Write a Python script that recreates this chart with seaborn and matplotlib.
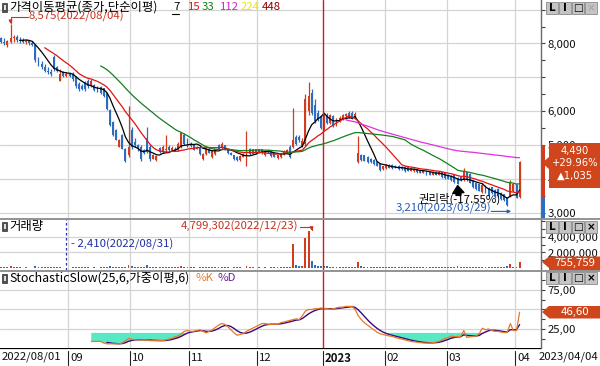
import numpy as np
import pandas as pd
import matplotlib
matplotlib.use("Agg")
import matplotlib.pyplot as plt
import matplotlib.transforms as mtransforms
from matplotlib.patches import Rectangle, Polygon
import seaborn as sns

# ---------------- data ----------------
start_date = "2022-08-01"
end_date = "2023-04-04"
holidays = ["2022-08-15", "2022-09-09", "2022-09-12", "2022-10-03", "2022-10-10",
            "2022-12-30", "2023-01-23", "2023-01-24", "2023-03-01"]

opens = [
    8150, 8050, 7950, 8050, 8150, 8200, 8100, 8080, 8050, 8060, 8000, 7950, 7550, 7400, 7300, 7200, 7150, 7600, 7300, 6900, 7150, 7050,
    7100, 7100, 7000, 6800, 6750, 6850, 6900, 6750, 6780, 6730, 6730, 6680, 6530, 6040, 5690, 5450, 4960, 5300, 4900, 4700,
    5450, 5100, 5000, 4950, 4850, 5200, 4950, 4600, 4560, 4930, 4800, 4850, 4950, 4850, 4900, 4850, 4950, 5300, 5150,
    5050, 5000, 4900, 4950, 4600, 4750, 4900, 4650, 4750, 5000, 4920, 5000, 4900, 4780, 4700, 4650, 4560, 4660, 4700, 4880, 4750, 4880,
    4780, 4880, 4700, 4830, 4800, 4780, 4620, 4640, 4720, 4780, 4950, 4950, 5250, 5250, 4980, 5050, 6000, 6550, 6200, 5950, 5850,
    5500, 5900, 5650, 5850, 5600, 5700, 5780, 5850, 5960, 5950, 5800, 4500, 4720, 4700, 4650, 4600, 4550, 4500, 4450, 4300,
    4320, 4430, 4420, 4400, 4400, 4350, 4360, 4350, 4250, 4230, 4300, 4250, 4180, 4230, 4200, 4130, 4220, 4130, 4200, 4170,
    4120, 4100, 4120, 4030, 4050, 3960, 4200, 4150, 3950, 3900, 3850, 3620, 3800, 3750, 3760, 3680, 3720, 3600, 3550, 3450, 3500, 3650,
    3850, 3470]
highs = [
    8200, 8150, 8100, 8575, 8250, 8250, 8180, 8150, 8120, 8100, 8080, 7980, 7600, 7480, 7400, 7300, 7250, 7650, 7350, 7250, 7200, 7150,
    7150, 7150, 7050, 6850, 6800, 6900, 6950, 6950, 6800, 6760, 6750, 6700, 6550, 6060, 5710, 5470, 5180, 5320, 4920, 6150,
    5550, 5200, 5050, 5000, 4900, 5550, 5000, 4750, 4700, 4950, 5000, 5300, 5000, 4970, 4950, 5100, 5400, 5350, 5200,
    5080, 5020, 4980, 4970, 4780, 4950, 4940, 4850, 4900, 5050, 5100, 5020, 4930, 4800, 4720, 4680, 4700, 4760, 5420, 4920, 4900, 4900,
    4900, 4900, 4860, 4880, 4830, 4800, 4730, 4760, 4850, 4880, 5000, 6100, 5300, 5300, 5200, 6500, 6850, 6650, 6350, 6050, 5900,
    5950, 5950, 5930, 5880, 5800, 5850, 5920, 5950, 6000, 6000, 5970, 5270, 4750, 4720, 4680, 4620, 4580, 4520, 4460, 4400,
    4450, 4440, 4440, 4420, 4420, 4380, 4380, 4370, 4350, 4330, 4320, 4270, 4260, 4250, 4220, 4230, 4240, 4230, 4210, 4190,
    4140, 4110, 4130, 4050, 4080, 4330, 4220, 4170, 3970, 3920, 3870, 3900, 3820, 3770, 3780, 3700, 3740, 3620, 3570, 3480, 3960, 3880,
    3870, 4530]
lows = [
    8000, 7950, 7900, 8000, 8050, 8050, 8020, 8000, 7980, 7950, 7920, 7450, 7350, 7250, 7150, 7100, 7050, 7200, 7150, 6880, 7000, 7000,
    7000, 6900, 6700, 6600, 6620, 6600, 6700, 6720, 6600, 6560, 6520, 6420, 6050, 5560, 5280, 5140, 4940, 4880, 4500, 4650,
    4900, 4950, 4830, 4540, 4750, 4780, 4540, 4580, 4540, 4780, 4780, 4800, 4820, 4830, 4820, 4830, 4930, 5000, 4950,
    4950, 4850, 4880, 4720, 4550, 4720, 4760, 4620, 4720, 4880, 4900, 4850, 4750, 4700, 4550, 4530, 4540, 4640, 4400, 4720, 4730, 4750,
    4760, 4750, 4690, 4760, 4650, 4640, 4600, 4620, 4700, 4760, 4620, 4930, 5000, 5100, 4960, 4970, 5900, 5900, 5650, 5700, 5480,
    5450, 5620, 5620, 5550, 5580, 5680, 5750, 5820, 5800, 5780, 5780, 4480, 4520, 4520, 4480, 4480, 4420, 4380, 4240, 4280,
    4300, 4320, 4300, 4330, 4280, 4270, 4220, 4230, 4230, 4220, 4180, 4170, 4170, 4130, 4110, 4120, 4110, 4120, 4030, 4000,
    3990, 3950, 3900, 3850, 3930, 3950, 3950, 3880, 3750, 3680, 3640, 3600, 3580, 3500, 3560, 3450, 3480, 3380, 3350, 3210, 3480, 3620,
    3430, 3450]
closes = [
    8050, 8000, 8080, 8150, 8200, 8100, 8080, 8050, 8060, 8000, 7950, 7500, 7400, 7300, 7200, 7150, 7100, 7250, 7200, 7090, 7050, 7100,
    7050, 6950, 6750, 6650, 6650, 6650, 6750, 6880, 6630, 6580, 6540, 6440, 6080, 5590, 5300, 5160, 5160, 4900, 4520, 4950,
    4950, 5000, 4880, 4600, 4780, 4800, 4600, 4700, 4680, 4800, 4950, 4900, 4850, 4930, 4840, 5050, 5350, 5050, 5000,
    4980, 4870, 4950, 4750, 4750, 4920, 4780, 4830, 4880, 4900, 5030, 4870, 4780, 4720, 4580, 4550, 4680, 4740, 4780, 4750, 4880, 4780,
    4880, 4780, 4830, 4790, 4680, 4660, 4710, 4740, 4820, 4850, 4650, 5150, 5050, 5150, 5120, 6350, 6450, 5950, 5700, 5750, 5520,
    5900, 5650, 5900, 5580, 5750, 5800, 5900, 5920, 5820, 5800, 5930, 4760, 4550, 4540, 4500, 4500, 4450, 4400, 4260, 4380,
    4420, 4340, 4320, 4350, 4300, 4290, 4240, 4250, 4330, 4300, 4200, 4190, 4240, 4150, 4120, 4200, 4130, 4200, 4050, 4020,
    4010, 3970, 3920, 3870, 3960, 4250, 3970, 3900, 3770, 3700, 3660, 3820, 3600, 3520, 3580, 3470, 3500, 3400, 3370, 3240, 3920, 3850,
    3455, 4490]
volume_k = [
    150, 120, 100, 250, 180, 90, 70, 60, 80, 60, 50, 200, 150, 120, 100, 80, 70, 150, 90, 110, 60, 2.41,
    60, 70, 120, 100, 80, 90, 70, 60, 90, 60, 70, 80, 150, 200, 180, 150, 120, 130, 180, 420,
    200, 120, 100, 150, 90, 330, 120, 100, 80, 90, 100, 150, 80, 90, 70, 100, 220, 120, 90,
    70, 80, 60, 90, 80, 100, 70, 80, 90, 80, 100, 80, 70, 60, 90, 80, 70, 60, 300, 90, 70, 60,
    70, 60, 80, 60, 70, 80, 70, 80, 90, 100, 150, 3050, 400, 300, 200, 3850, 4799.302, 850, 350, 250, 250,
    250, 200, 180, 150, 130, 150, 140, 120, 150, 130, 120, 800, 200, 150, 120, 100, 100, 90, 120, 90,
    100, 80, 90, 70, 80, 90, 70, 80, 90, 70, 80, 70, 90, 80, 70, 90, 80, 100, 90, 80,
    90, 100, 120, 200, 110, 150, 100, 90, 120, 110, 100, 130, 100, 90, 100, 90, 120, 110, 130, 200, 500, 150,
    180, 755.759]
# Stochastic slow %K, from the 30th trading day on
stoch_first_day = 29
stoch_k_values = [
    9, 9, 9, 9, 7, 6, 6, 6, 6, 6,
    7, 10, 13, 12, 11, 11, 11, 11, 11, 10,
    10, 10, 10, 10, 11, 12, 13, 15, 16, 19,
    22, 23, 22, 22, 23, 24, 22, 20, 22, 24,
    27, 30, 32, 31, 28, 24, 20, 17, 18, 19,
    22, 24, 26, 28, 30, 32, 32, 31, 31, 31,
    31, 33, 34, 35, 36, 37, 38, 37, 42, 48,
    50, 50, 51, 51, 52, 51, 51, 50, 51, 52,
    53, 53, 54, 54, 54, 50, 42, 37, 33, 30,
    27, 24, 21, 19, 18, 17, 16, 15.5, 14, 13,
    12, 11, 10, 9, 8.5, 8, 7.5, 7, 7, 7,
    7.5, 8, 9, 11, 13, 14, 16, 15, 15.5, 15,
    23, 14, 15, 15.5, 16, 19, 26, 24, 25, 23,
    22, 22, 21, 20.5, 20.5, 32, 23, 23, 46.6]

ma_periods = [7, 15, 33, 112]
ma_header = ["7", "15", "33", "112", "224", "448"]
stoch_d_len = 6
month_labels = ["2022/08/01", "09", "10", "11", "12", "2023", "02", "03", "04"]
last_date_label = "2023/04/04"
max_label = "8,575(2022/08/04)"
min_label = "3,210(2023/03/29)"
exr_label = "권리락(-17.55%)"
exr_day = 147
vmax_label = "4,799,302(2022/12/23)"
vmin_label = "- 2,410(2022/08/31)"
badge_price = ["4,490", "+29.96%", "\u25B21,035"]
badge_vol = "755,759"
badge_stoch = "46,60"

# ---------------- frame ----------------
dates = pd.bdate_range(start_date, end_date)
dates = dates[~dates.isin(pd.to_datetime(holidays))]
n = len(dates)
for nm, arr in [("opens", opens), ("highs", highs), ("lows", lows), ("closes", closes), ("volume_k", volume_k)]:
    if len(arr) != n:
        raise SystemExit(f"{nm}: {len(arr)} != {n}")
df = pd.DataFrame({"date": dates, "i": np.arange(n), "open": opens, "high": highs,
                   "low": lows, "close": closes, "volume": np.array(volume_k) * 1000})
for p in ma_periods:
    df[f"ma{p}"] = df["close"].rolling(p).mean()
df["slowk"] = np.nan
df.loc[stoch_first_day:stoch_first_day + len(stoch_k_values) - 1, "slowk"] = stoch_k_values
w = np.arange(1, stoch_d_len + 1)
df["slowd"] = df["slowk"].rolling(stoch_d_len).apply(lambda v: np.dot(v, w) / w.sum(), raw=True)

# ---------------- style ----------------
sns.set_theme(style="white")
plt.rcParams["font.family"] = ["Noto Sans CJK KR", "DejaVu Sans"]
plt.rcParams["axes.unicode_minus"] = False

UP, DOWN = "#d23c1e", "#2e6cc0"
MA_COLORS = ["#000000", "#e01414", "#14801e", "#e030e0"]
HDR_COLORS = ["#000000", "#d01818", "#108018", "#d020d0", "#e6e620", "#8c0000"]
K_COL, D_COL = "#e8782a", "#3c0a78"
GRID = "#d4d4d4"
FS = 8.2
HFS = 8.9
W, H = 600, 366

fig = plt.figure(figsize=(W / 100, H / 100), dpi=100)
fig.patch.set_facecolor("white")

def fx(x): return x / W
def fy(y): return 1 - y / H

def add_ax(x0, y0, x1, y1):
    a = fig.add_axes([fx(x0), fy(y1), (x1 - x0) / W, (y1 - y0) / H])
    a.set_facecolor("white")
    return a

ax_p = add_ax(0, 0, 541, 218)
ax_v = add_ax(0, 219, 541, 270)
ax_s = add_ax(0, 271, 541, 348)
ax_d = add_ax(0, 348, 541, 366)
XLIM = (-0.403, 173.89)

month_idx = [0] + [i for i in range(1, n) if dates[i].month != dates[i - 1].month]

for a in (ax_p, ax_v, ax_s, ax_d):
    a.set_xlim(*XLIM)
    for s in ["top", "left", "bottom"]:
        a.spines[s].set_visible(False)
    a.spines["right"].set_color("#6a6a6a")
    a.spines["right"].set_linewidth(1.0)
    a.tick_params(axis="x", bottom=False, labelbottom=False)

for a in (ax_p, ax_v, ax_s):
    for j, mi in enumerate(month_idx[1:], start=1):
        if month_labels[j] == "2023":
            a.axvline(mi - 0.5, color="#c81e1e", lw=1.0, zorder=5)
        else:
            a.axvline(mi - 0.5, color=GRID, lw=0.9, zorder=0)
    a.yaxis.tick_right()
    a.tick_params(axis="y", which="both", left=False, labelleft=False, right=True, labelright=True,
                  direction="out", length=3, width=0.8, color="#404040", pad=1.5, labelsize=FS,
                  labelcolor="#111111")

def off(ax, dx, dy):
    return mtransforms.offset_copy(ax.transData, fig=fig, x=dx, y=dy, units="dots")

# ---------------- price panel ----------------
ax_p.set_ylim(2853, 9283)
for yv in range(3000, 9001, 1000):
    ax_p.axhline(yv, color=GRID, lw=0.9, zorder=0)
up = df["close"] >= df["open"]
cols = np.where(up, UP, DOWN)
ax_p.vlines(df["i"], df["low"], df["high"], colors=cols, lw=0.9, zorder=3)
body_bot = np.minimum(df["open"], df["close"])
body_h = np.maximum(np.abs(df["close"] - df["open"]), 20)
ax_p.bar(df["i"], body_h, bottom=body_bot, width=0.62, color=cols, lw=0, zorder=3)
for p, c in zip(ma_periods, MA_COLORS):
    sns.lineplot(x=df["i"], y=df[f"ma{p}"], color=c, lw=0.9, ax=ax_p, zorder=4, legend=False)
ax_p.set(xlabel="", ylabel="")
pt = list(range(3000, 9001, 500))
ax_p.set_yticks(pt)
ax_p.set_yticklabels([f"{v:,}" if v in (3000, 4000, 5000, 6000, 8000) else "" for v in pt])

imax = int(df["high"].idxmax()); hmax = df["high"].max()
imin = int(df["low"].idxmin()); lmin = df["low"].min()
red_t = "#c8321e"
blue_t = "#2a5cb0"

# highest price marker
ax_p.annotate("", xy=(imax, hmax), xytext=(17, 7.5), textcoords="offset pixels",
              arrowprops=dict(arrowstyle="-|>", color=red_t, lw=0.8, mutation_scale=5, shrinkA=0, shrinkB=0,
                              connectionstyle="angle,angleA=180,angleB=90,rad=0"), zorder=6)
ax_p.annotate(max_label, xy=(imax, hmax), xytext=(18, 7.5), textcoords="offset pixels",
              ha="left", va="center", color=red_t, fontsize=FS, zorder=6)

# lowest price marker
ax_p.annotate(min_label, xy=(imin, lmin), xytext=(-16, -2.5), textcoords="offset pixels",
              ha="right", va="center", color=blue_t, fontsize=FS, zorder=6)
ax_p.annotate("", xy=(imin, lmin), xycoords=off(ax_p, 4, -5.5), xytext=(-20, 0), textcoords="offset pixels",
              arrowprops=dict(arrowstyle="-|>", color=blue_t, lw=0.8, mutation_scale=5, shrinkA=0, shrinkB=0),
              zorder=6)

# ex-rights marker
ax_p.annotate("", xy=(exr_day, df["low"][exr_day]), xytext=(1, -11), textcoords="offset pixels",
              arrowprops=dict(arrowstyle="simple,head_length=0.6,head_width=0.9,tail_width=0.4",
                              color="black", mutation_scale=9, shrinkA=0, shrinkB=1), zorder=6)
ax_p.annotate(exr_label, xy=(exr_day, df["low"][exr_day]), xytext=(2, -14.5), textcoords="offset pixels",
              ha="center", va="center", color="black", fontsize=FS, zorder=6)

# ---------------- volume panel ----------------
ax_v.set_ylim(-0.258e6, 6.32e6)
for yv in (2e6, 4e6):
    ax_v.axhline(yv, color=GRID, lw=0.9, zorder=0)
ax_v.bar(df["i"], df["volume"], width=0.62, color=cols, lw=0, zorder=3)
vt = [1e6, 2e6, 3e6, 4e6, 5e6, 6e6]
ax_v.set_yticks(vt)
ax_v.set_yticklabels(["", "2,000,000", "", "4,000,000", "", ""])
imin_v = int(df["volume"].idxmin())
imax_v = int(df["volume"].idxmax())
ax_v.axvline(imin_v, color="#2030b0", lw=0.9, ls=(0, (2, 2)), zorder=5)
bt = mtransforms.blended_transform_factory(ax_v.transData, ax_v.transAxes)
ax_v.text(imin_v, 0.5, vmin_label, transform=mtransforms.offset_copy(bt, fig=fig, x=5, y=0, units="dots"),
          ha="left", va="center", color="#2030a0", fontsize=FS)
ax_v.annotate(vmax_label, xy=(imax_v, df["volume"][imax_v]), xytext=(-10, 4), textcoords="offset pixels",
              ha="right", va="center", color=red_t, fontsize=FS, zorder=6)
ax_v.annotate("", xy=(imax_v, df["volume"][imax_v]), xycoords=off(ax_v, 3, 0), xytext=(-12, 4),
              textcoords="offset pixels",
              arrowprops=dict(arrowstyle="-|>", color=red_t, lw=0.8, mutation_scale=5, shrinkA=0, shrinkB=0,
                              connectionstyle="angle,angleA=0,angleB=90,rad=0"), zorder=6)

# ---------------- stochastic panel ----------------
ax_s.set_ylim(0.6, 99.4)
for yv in (25, 50, 75):
    ax_s.axhline(yv, color=GRID, lw=0.9, zorder=0)
lower = df["slowd"].fillna(df["slowk"])
ax_s.fill_between(df["i"], lower.clip(upper=20), 20, where=(lower < 20), interpolate=True,
                  color="#58e8c4", lw=0, zorder=2)
sns.lineplot(x=df["i"], y=df["slowd"], color=D_COL, lw=1.0, ax=ax_s, zorder=4, legend=False)
sns.lineplot(x=df["i"], y=df["slowk"], color=K_COL, lw=0.9, ax=ax_s, zorder=4, legend=False)
ax_s.set(xlabel="", ylabel="")
st = [12.5, 25, 37.5, 50, 62.5, 75, 87.5]
ax_s.set_yticks(st)
ax_s.set_yticklabels(["", "25,00", "", "", "", "75,00", ""])

# ---------------- date axis ----------------
ax_d.set_ylim(0, 1)
ax_d.tick_params(axis="y", left=False, right=False, labelleft=False, labelright=False)
ax_d.spines["right"].set_visible(False)
ax_d.axhline(1, color="black", lw=1.6)
dbt = mtransforms.blended_transform_factory(ax_d.transData, ax_d.transAxes)
for j, mi in enumerate(month_idx):
    lab = month_labels[j]
    if j == 0:
        fig.text(fx(2), fy(357), lab, ha="left", va="center", fontsize=FS, color="#111111")
        continue
    ax_d.plot([mi - 0.5, mi - 0.5], [0.05, 0.85], color="#222222", lw=0.8, transform=dbt)
    ax_d.text(mi - 0.5, 0.42, lab, transform=mtransforms.offset_copy(dbt, fig=fig, x=2, y=0, units="dots"),
              ha="left", va="center", fontsize=FS, color="#111111",
              fontweight="bold" if lab == "2023" else "normal")
fig.text(fx(598), fy(357), last_date_label, ha="right", va="center", fontsize=FS, color="#111111")

# ---------------- separators & headers ----------------
for yy in (218.5, 270.5):
    fig.add_artist(plt.Line2D([0, 1], [fy(yy), fy(yy)], color="#8a8a8a", lw=1.3, transform=fig.transFigure))

def icon(x, y):
    fig.add_artist(Rectangle((fx(x), fy(y + 9)), 5 / W, 9 / H, transform=fig.transFigure,
                             facecolor="#505050", edgecolor="#303030", lw=0.5, zorder=20))
    fig.add_artist(Rectangle((fx(x + 1.5), fy(y + 7)), 2 / W, 5 / H, transform=fig.transFigure,
                             facecolor="#e0e0e0", edgecolor="none", zorder=21))

icon(2, 3)
fig.text(fx(9), fy(7.5), "가격이동평균(종가,단순이평)", ha="left", va="center", fontsize=HFS, color="black")
hx = [173, 188, 202, 220, 241, 262]
for s, c, x in zip(ma_header, HDR_COLORS, hx):
    fig.text(fx(x), fy(7.5), s, ha="left", va="center", fontsize=FS, color=c)
fig.add_artist(plt.Line2D([fx(172), fx(179)], [fy(13.5), fy(13.5)], color="black", lw=0.8, transform=fig.transFigure))
icon(2, 222)
fig.text(fx(9), fy(226.5), "거래량", ha="left", va="center", fontsize=HFS, color="black")
icon(2, 273.5)
fig.text(fx(9), fy(278), "StochasticSlow(25,6,가중이평,6)", ha="left", va="center", fontsize=HFS, color="black")
fig.text(fx(195), fy(278), "%K", ha="left", va="center", fontsize=FS, color=K_COL)
fig.text(fx(218), fy(278), "%D", ha="left", va="center", fontsize=FS, color="#6a1a9a")

def buttons(y0, xgray=False):
    xs = [546, 559, 572, 585]
    glyphs = ["L", "I", "\u25A1", "\u00D7"]
    for k, (x, g) in enumerate(zip(xs, glyphs)):
        fig.add_artist(Rectangle((fx(x), fy(y0 + 11.5)), 12 / W, 11.5 / H, transform=fig.transFigure,
                                 facecolor="#c4c4c4", edgecolor="#8a8a8a", lw=0.6, zorder=20))
        col = "#a8a8a8" if (xgray and k == 3) else "black"
        fig.text(fx(x + 6), fy(y0 + 5.8), g, ha="center", va="center", fontsize=7.5, color=col,
                 fontweight="bold", family=["DejaVu Sans"], zorder=21)

buttons(2, xgray=True)
buttons(221)
buttons(272)

# ---------------- badges ----------------
BADGE = "#d0461c"
fig.add_artist(Rectangle((fx(541.5), fy(198)), 3 / W, 53 / H, transform=fig.transFigure,
                         facecolor=UP, edgecolor="none", zorder=9))
fig.add_artist(Rectangle((fx(541.5), fy(218)), 3 / W, 20 / H, transform=fig.transFigure,
                         facecolor=DOWN, edgecolor="none", zorder=9))

def badge(y0, y1, ytip, texts, size, family):
    pts = [(549, y0), (600, y0), (600, y1), (549, y1), (549, min(y1, ytip + 6)), (542, ytip), (549, max(y0, ytip - 6))]
    fig.add_artist(Polygon([(fx(x), fy(y)) for x, y in pts], closed=True, transform=fig.transFigure,
                           facecolor=BADGE, edgecolor="none", zorder=22))
    for t, y in texts:
        fig.text(fx(575), fy(y), t, ha="center", va="center", fontsize=size, color="white", zorder=23,
                 family=family)

badge(143, 188, 163, [(badge_price[0], 151), (badge_price[1], 163.5), (badge_price[2], 176)], 7.2, ["DejaVu Sans"])
badge(256.5, 270, 262, [(badge_vol, 263)], FS, ["Noto Sans CJK KR", "DejaVu Sans"])
badge(306, 318.5, 312, [(badge_stoch, 312.3)], FS, ["Noto Sans CJK KR", "DejaVu Sans"])

fig.savefig("out.png", dpi=100)
